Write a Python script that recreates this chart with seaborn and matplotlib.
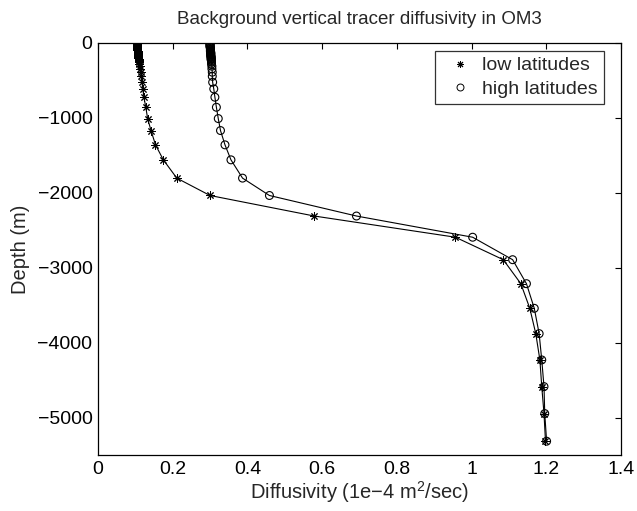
import numpy as np
import pandas as pd
import matplotlib
matplotlib.use("Agg")
import matplotlib.pyplot as plt
from matplotlib.lines import Line2D
import seaborn as sns

# Model level depths (m)
depth = [5, 15, 25, 35, 45, 55, 65, 75, 85, 95, 105, 115, 125, 135, 145,
         155, 165, 175, 185, 195, 205, 215, 226, 240, 258, 281, 310, 346,
         390, 445, 524, 613, 724, 858, 1009, 1169, 1360, 1560, 1804, 2036,
         2310, 2593, 2893, 3213, 3542, 3880, 4231, 4587, 4947, 5316]

# Diffusivity (1e-4 m^2/s)
low_lat = [0.104, 0.104, 0.104, 0.104, 0.104, 0.105, 0.105, 0.105, 0.105,
           0.105, 0.106, 0.106, 0.106, 0.106, 0.107, 0.107, 0.107, 0.107,
           0.108, 0.108, 0.108, 0.109, 0.109, 0.110, 0.110, 0.111, 0.112,
           0.113, 0.114, 0.116, 0.118, 0.120, 0.123, 0.128, 0.133, 0.142,
           0.154, 0.175, 0.211, 0.300, 0.579, 0.957, 1.085, 1.132, 1.156,
           1.172, 1.183, 1.188, 1.194, 1.198]
high_lat = [0.300, 0.300, 0.300, 0.300, 0.300, 0.300, 0.301, 0.301, 0.301,
            0.301, 0.301, 0.301, 0.302, 0.302, 0.302, 0.302, 0.302, 0.302,
            0.303, 0.303, 0.303, 0.303, 0.303, 0.304, 0.304, 0.304, 0.305,
            0.305, 0.306, 0.306, 0.307, 0.310, 0.313, 0.317, 0.322, 0.328,
            0.340, 0.356, 0.387, 0.459, 0.692, 1.003, 1.110, 1.147, 1.168,
            1.181, 1.188, 1.194, 1.196, 1.201]

series_names = ["low latitudes", "high latitudes"]

df = pd.DataFrame({
    "z": [-d for d in depth] * 2,
    "k": low_lat + high_lat,
    "series": [series_names[0]] * len(depth) + [series_names[1]] * len(depth),
})

sns.set_style("white")
plt.rcParams["font.family"] = ["Liberation Sans", "DejaVu Sans"]
plt.rcParams["mathtext.fontset"] = "custom"
plt.rcParams["mathtext.rm"] = "Liberation Sans"

fig = plt.figure(figsize=(6.37, 5.11), dpi=100)
ax = fig.add_axes([0.1538, 0.1096, 0.8210, 0.8063])

asterisk = (8, 2, 0)
sub_low = df[df["series"] == series_names[0]]
sub_high = df[df["series"] == series_names[1]]

# connecting lines
for sub in (sub_low, sub_high):
    sns.lineplot(data=sub, x="k", y="z", sort=False, estimator=None, ax=ax,
                 color="black", lw=0.8, legend=False)

# markers
sns.scatterplot(data=sub_low, x="k", y="z", ax=ax, marker=asterisk, s=30,
                color="black", edgecolor="black", linewidth=0.7, legend=False,
                zorder=3)
sns.scatterplot(data=sub_high, x="k", y="z", ax=ax, marker="o", s=32,
                facecolor="none", edgecolor="black", linewidth=0.8,
                legend=False, zorder=3)

ax.set_xlim(0, 1.4)
ax.set_ylim(-5500, 0)
ax.set_xticks(np.arange(0, 1.41, 0.2))
ax.set_xticklabels(["0", "0.2", "0.4", "0.6", "0.8", "1", "1.2", "1.4"])
ax.set_yticks([-5000, -4000, -3000, -2000, -1000, 0])
ax.tick_params(direction="in", top=True, right=True, length=4, width=0.8,
               labelsize=14, colors="black", pad=4)
for s in ax.spines.values():
    s.set_linewidth(0.9)
    s.set_color("black")

ax.set_title("Background vertical tracer diffusivity in OM3", fontsize=13.5, pad=14)
ax.set_xlabel("Diffusivity (1e\u22124 m$^2$/sec)", fontsize=14.5, labelpad=1)
ax.set_ylabel("Depth (m)", fontsize=14.5, labelpad=5)

handles = [
    Line2D([], [], ls="none", marker=asterisk, color="black", markersize=5,
           markeredgewidth=0.7),
    Line2D([], [], ls="none", marker="o", markerfacecolor="none",
           markeredgecolor="black", markersize=5, markeredgewidth=0.7),
]
leg = ax.legend(handles, series_names, loc="upper right",
                bbox_to_anchor=(0.9675, 0.9806), borderaxespad=0,
                fontsize=14, frameon=True, fancybox=False, edgecolor="black",
                handlelength=2.0, handletextpad=0.15,
                borderpad=0.3, labelspacing=0.3)
leg.get_frame().set_linewidth(0.9)

fig.savefig("out.png", dpi=100)
